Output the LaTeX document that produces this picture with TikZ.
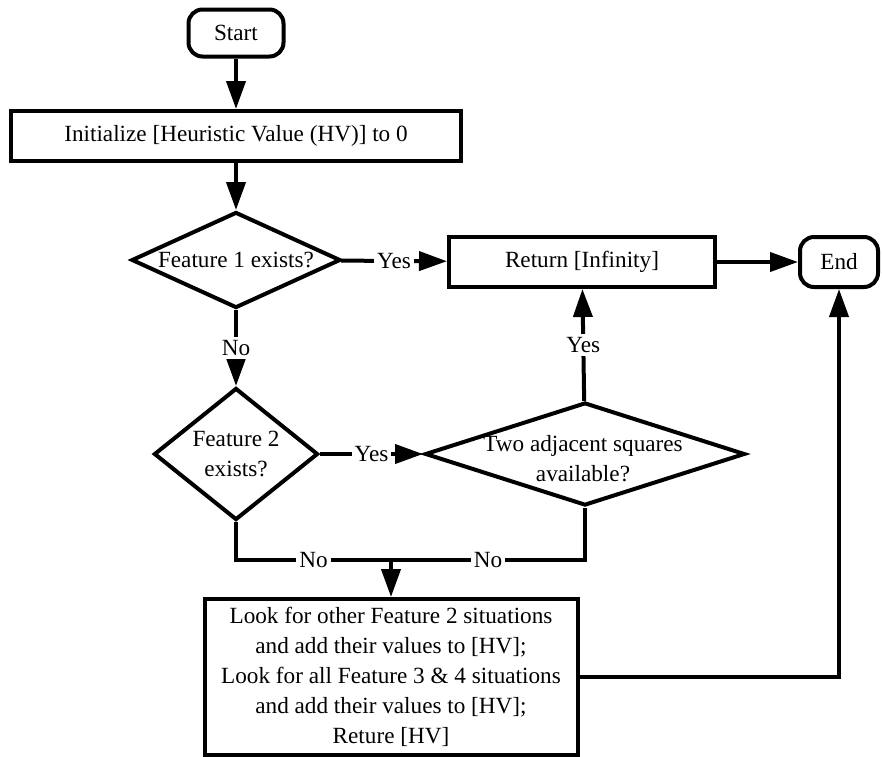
\documentclass[tikz,border=0pt]{standalone}
\usepackage{fontspec}
\setmainfont{Liberation Serif}
\usetikzlibrary{shapes.geometric,arrows.meta}

\begin{document}
\begin{tikzpicture}[x=0.5pt,y=-0.5pt,line width=2pt,>={Triangle[length=14pt,width=9.5pt]}]
    \tikzstyle{every node}=[font=\fontsize{11.6}{15}\selectfont]
    \tikzstyle{box}=[draw,rectangle,inner sep=0pt,minimum height=25pt]
    \tikzstyle{term}=[box,rounded corners=7pt]
    \tikzstyle{test}=[draw,diamond,inner sep=0pt]
    \tikzstyle{ans}=[fill=white,inner sep=1.5pt]
    \useasboundingbox (0,0) rectangle (882,756);
    %%% HELP LINES - uncomment to design/extend
    %\draw[step=50,gray,very thin] (0,0) grid (882,756);
    % Start / init
    \node at (236,33) [term,minimum width=47.5pt,minimum height=23.5pt] (START) {Start};
    \node at (236,136) [box,minimum width=225pt] (INIT) {Initialize [Heuristic Value (HV)] to 0};
    % Feature 1
    \node at (236,260) [test,minimum width=104.5pt,minimum height=48pt,
        label=center:{Feature 1 exists?}] (F1) {};
    \node at (582,262) [box,minimum width=133pt] (RET) {Return [Infinity]};
    \node at (839,262) [term,minimum width=39pt] (END) {End};
    % Feature 2
    \node at (236,454) [test,minimum width=82pt,minimum height=66pt,
        label={[align=center]center:Feature 2\\exists?}] (F2) {};
    \node at (585,454) [test,minimum width=160pt,minimum height=51.5pt,
        label={[align=center,yshift=-2.5pt,xshift=-1pt]center:Two adjacent squares\\available?}] (ADJ) {};
    % Feature 3 & 4
    \coordinate (J) at (391,560);
    \node at (391,677) [box,minimum width=186.5pt,minimum height=78pt,align=center] (LOOK)
        {Look for other Feature 2 situations\\and add their values to [HV];\\
         Look for all Feature 3 \& 4 situations\\and add their values to [HV];\\Reture [HV]};

    \path
    (START) edge [->] (INIT)
    (INIT) edge [->] (F1)
    (F1) edge [->] node [ans] {Yes} (RET)
    (F1) edge [->] node [ans] {No} (F2)
    (F2) edge [->] node [ans] {Yes} (ADJ)
    (ADJ) edge [->] node [ans] {Yes} (RET)
    (RET) edge [->] (END)
    (J) edge [->] (LOOK);
    \draw (F2) |- node [ans,pos=.75] {No} (J);
    \draw (ADJ) |- node [ans,pos=.75] {No} (J);
    \draw [->] (LOOK) -| (END);
\end{tikzpicture}
\end{document}
